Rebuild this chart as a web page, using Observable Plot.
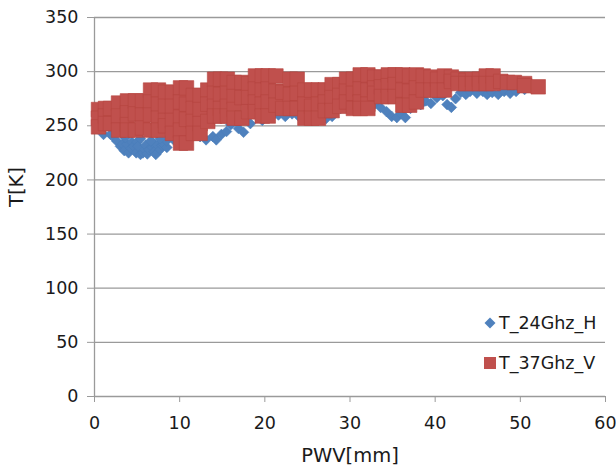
<!DOCTYPE html>
<html><head><meta charset="utf-8">
<script src="https://cdn.jsdelivr.net/npm/d3@7"></script>
<script src="https://cdn.jsdelivr.net/npm/@observablehq/plot@0.6"></script>
<style>
body{margin:0;background:#fff;font-family:"DejaVu Sans",Verdana,sans-serif;}
#wrap{position:relative;width:616px;height:470px;}
.lg{position:absolute;left:483px;font-size:17.5px;color:#1a1a1a;display:flex;align-items:center;height:20px;}
.lg svg{margin-right:2px;}
</style></head><body><div id="wrap"></div>
<script>
const xTicks = [0, 10, 20, 30, 40, 50, 60];
const yTicks = [0, 50, 100, 150, 200, 250, 300, 350];
const seriesNames = ["T_24Ghz_H", "T_37Ghz_V"];
const seriesColors = ["#4F81BD", "#C0504D"];

// T_24Ghz_H : [PWV mm, T K]
const t24 = [[0.35,255],[1.3,250],[1.06,242],[1.88,242],[2.2,240],[2.6,236],[3.05,231],[3.3,233],[3.5,227],[3.8,233],[4.0,225],[4.3,229],[4.4,235],[4.6,231],[4.9,225],[5.0,235],[5.1,231],[5.4,223.5],[5.7,225],[5.9,228],[6.0,232],[6.2,224],[6.4,228],[6.8,230],[6.9,234],[7.0,226],[7.2,223.5],[7.4,232],[7.7,228],[7.9,232],[8.1,233],[8.5,230],[8.45,236],[8.9,240],[9.3,237],[5.4,238],[3.6,239],[6.6,236],[7.7,238],[11.3,245.6],[12.4,240],[13.1,237],[13.9,240],[14.3,237],[14.9,242],[15.5,244.7],[16.0,251],[16.4,257],[15.7,260],[16.9,247.5],[17.5,244],[18.3,252],[19.7,255],[20.7,257.6],[21.6,260],[22.4,258.6],[23.2,261],[24.0,258.6],[24.9,257.6],[25.6,255],[26.3,262],[27.2,256.7],[27.9,258.6],[28.9,266],[29.7,270.6],[30.3,266],[31.2,266],[32.2,272],[33.0,270.6],[33.6,266.9],[34.3,263],[34.9,258.6],[35.5,257.6],[36.0,261],[36.5,257.6],[37.1,266],[37.7,275],[38.3,269.6],[38.9,273],[39.5,270.6],[40.2,276],[40.9,277.8],[41.4,269.6],[41.9,267],[42.4,275],[43.0,280.7],[43.6,279],[44.1,281.7],[44.9,280],[45.6,281.7],[46.1,279],[46.7,280.7],[47.4,279],[48.1,281.7],[48.8,280],[49.5,281.7],[50.5,283.5]];

// T_37Ghz_V : [PWV mm, T K]
const t37 = [[0.47,265],[0.47,257],[0.47,249],[1.29,266],[1.29,259],[1.29,252],[1.88,266],[1.88,252],[2.82,271],[2.82,259],[2.82,246],[3.87,273],[3.87,262],[3.87,251],[3.87,246],[4.81,273],[4.81,261],[4.81,246],[5.64,273],[5.64,260],[5.64,248],[6.58,283],[6.58,272],[6.58,260],[6.58,246],[7.51,283],[7.51,270],[7.51,257],[7.51,246],[8.34,281],[8.34,268],[8.34,255],[8.34,250],[9.16,281],[9.16,268],[9.16,255],[9.16,243],[10.1,285],[10.1,272],[10.1,258],[10.1,246],[10.1,234],[10.8,285],[10.8,270],[10.8,256],[10.8,234],[11.6,278],[11.6,266],[11.6,254],[11.6,243],[12.4,278],[12.4,265],[12.4,252],[12.4,243],[13.3,283],[13.3,270],[13.3,254],[14.1,293],[14.1,280],[14.1,268],[14.1,259],[14.8,293],[14.8,279],[14.8,266],[14.8,259],[15.6,293],[15.6,280],[15.6,268],[15.6,259],[16.4,290],[16.4,277],[16.4,265],[16.4,257],[17.3,290],[17.3,276],[17.3,257],[18.1,289],[18.1,276],[18.1,263],[18.9,296],[18.9,284],[18.9,272],[18.9,263],[19.7,296],[19.7,283],[19.7,270],[19.7,259],[20.4,296],[20.4,284],[20.4,272],[20.4,259],[21.3,296],[21.3,282],[21.3,269],[22.1,281],[22.1,266],[23.0,293],[23.0,279],[23.0,266],[23.8,293],[23.8,280],[23.8,266],[24.7,283],[24.7,270],[24.7,257],[25.5,283],[25.5,268],[25.5,257],[26.3,283],[26.3,270],[26.3,257],[27.1,283],[27.1,272],[27.1,264],[27.9,288],[27.9,276],[27.9,264],[28.8,288],[28.8,278],[28.8,268],[29.6,293],[29.6,282],[29.6,272],[30.4,293],[30.4,280],[30.4,266],[31.2,297],[31.2,284],[31.2,272],[31.2,266],[32.1,297],[32.1,283],[32.1,270],[32.1,266],[32.9,295],[32.9,285],[32.9,280],[33.7,295],[33.7,286],[33.7,277],[34.5,297],[34.5,287],[34.5,277],[35.3,297],[35.3,288],[35.3,277],[36.2,297],[36.2,283],[36.2,269],[37.0,296],[37.0,282],[37.0,269],[37.8,297],[37.8,285],[37.8,272],[38.6,296],[38.6,283],[39.5,295],[39.5,283],[40.3,293],[40.3,283],[41.1,296],[41.1,283],[41.9,295],[41.9,291],[42.7,293],[42.7,289],[43.6,292],[43.6,289],[44.4,293],[44.4,289],[45.2,293],[45.2,289],[46.0,296],[46.0,289],[46.8,296],[46.8,289],[47.7,291],[48.5,290],[49.3,290],[50.5,289],[50.5,287],[52.1,286]];

const font = "'DejaVu Sans', Verdana, sans-serif";
const chart = Plot.plot({
  width: 616, height: 470,
  marginLeft: 94, marginRight: 11, marginTop: 17, marginBottom: 74,
  style: {fontFamily: font, fontSize: "17.5px", color: "#1a1a1a", background: "white"},
  x: {domain: [0, 60], label: null},
  y: {domain: [0, 350], label: null},
  marks: [
    Plot.gridY(yTicks.filter(d => d > 0), {stroke: "#9a9a9a", strokeOpacity: 1, strokeWidth: 1.3}),
    Plot.ruleY([0], {stroke: "#9a9a9a", strokeWidth: 1.3}),
    Plot.ruleX([0], {stroke: "#9a9a9a", strokeWidth: 1.3}),
    Plot.axisY({ticks: yTicks, tickSize: 7, tickPadding: 9, stroke: "#9a9a9a", fill: "#1a1a1a", label: null}),
    Plot.axisX({ticks: xTicks, tickSize: 6, tickPadding: 14, stroke: "#9a9a9a", fill: "#1a1a1a", label: null}),
    Plot.text(["PWV[mm]"], {frameAnchor: "bottom", dy: 59, fill: "#1a1a1a", fontSize: 19.5, lineAnchor: "middle"}),
    Plot.text(["T[K]"], {frameAnchor: "left", dx: -78, rotate: -90, fill: "#1a1a1a", fontSize: 19.5, lineAnchor: "middle"}),
    Plot.dot(t24, {x: d => d[0], y: d => d[1], symbol: "diamond2", r: 4.8, fill: seriesColors[0], stroke: "#4A7EBB", strokeWidth: 0.6}),
    Plot.dot(t37, {x: d => d[0], y: d => d[1], symbol: "square", r: 8.2, fill: seriesColors[1], stroke: "#B6453F", strokeWidth: 0.6})
  ]
});
const wrap = document.getElementById("wrap");
wrap.appendChild(chart);
const legendTops = [313, 353];
seriesNames.forEach((name, i) => {
  const el = document.createElement("div");
  el.className = "lg";
  el.style.top = legendTops[i] + "px";
  const sym = i === 0
    ? `<svg width="14" height="14"><path d="M7,1.5L12.5,7L7,12.5L1.5,7Z" fill="${seriesColors[0]}"/></svg>`
    : `<svg width="14" height="14"><rect x="1" y="1" width="12" height="12" fill="${seriesColors[1]}"/></svg>`;
  el.innerHTML = sym + `<span>${name}</span>`;
  wrap.appendChild(el);
});
</script>
</body></html>
